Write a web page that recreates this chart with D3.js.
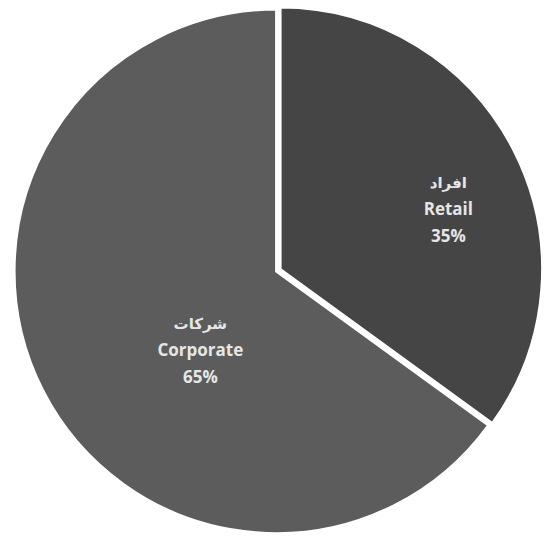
<!DOCTYPE html>
<html>
<head>
<meta charset="utf-8">
<script src="https://cdn.jsdelivr.net/npm/d3@7"></script>
<style>
  body { margin: 0; background: #fff; }
  svg { display: block; }
</style>
</head>
<body>
<div id="chart"></div>
<script>
// Data
const segments = ["Retail", "Corporate"];
const arabicNames = ["افراد", "شركات"];
const shares = [35, 65];

// Layout
const width = 544, height = 544;
const cx = 279, cy = 270, radius = 262;
const colors = ["#454545", "#5c5c5c"];
const explode = [1.5, 3];
// label anchor as offset from centre (Excel best-fit positions)
const labelOffset = [[168, -60], [-76, 79]];

const data = segments.map((s, i) => ({ name: s, ar: arabicNames[i], value: shares[i] }));

const svg = d3.select("#chart").append("svg")
  .attr("width", width)
  .attr("height", height);

const pie = d3.pie().value(d => d.value).sort(null);
const arc = d3.arc().innerRadius(0).outerRadius(radius);

const g = svg.append("g").attr("transform", `translate(${cx},${cy})`);

const slices = g.selectAll("g.slice")
  .data(pie(data))
  .enter().append("g")
  .attr("class", "slice")
  .attr("transform", (d, i) => {
    const mid = (d.startAngle + d.endAngle) / 2;
    return `translate(${Math.sin(mid) * explode[i]},${-Math.cos(mid) * explode[i]})`;
  });

slices.append("path")
  .attr("d", arc)
  .attr("fill", (d, i) => colors[i])
  .attr("stroke", "#fff")
  .attr("stroke-width", 2.5);

const labels = slices.append("text")
  .attr("text-anchor", "middle")
  .attr("fill", "#e6e6e6")
  .style("font-family", "'Open Sans', 'DejaVu Sans', sans-serif")
  .style("font-weight", "bold")
  .style("font-size", "17px")
  .attr("transform", (d, i) => `translate(${labelOffset[i][0]},${labelOffset[i][1]})`);

labels.append("tspan").attr("x", 0).attr("y", -21).text(d => d.data.ar)
  .style("font-family", "'DejaVu Sans', sans-serif").style("font-size", "15px");
labels.append("tspan").attr("x", 0).attr("y", 6).text(d => d.data.name);
labels.append("tspan").attr("x", 0).attr("y", 33).text(d => d.data.value + "%");
</script>
</body>
</html>
